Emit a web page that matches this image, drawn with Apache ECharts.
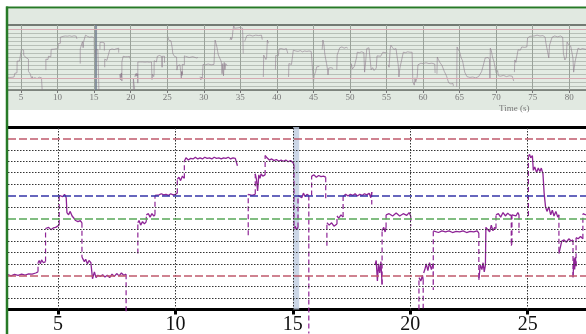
<!DOCTYPE html>
<html><head><meta charset="utf-8">
<script src="https://cdn.jsdelivr.net/npm/echarts@6/dist/echarts.min.js"></script>
<style>html,body{margin:0;padding:0;background:#fff}#c{width:586px;height:334px}</style>
</head><body><div id="c"></div>
<script>
// pitch trace of the zoomed window: [time (s), semitones above tonic]; null = unvoiced gap
const detailTrace = [
 [2.87,0.05],[3.0,-0.05],[3.15,0.08],[3.3,0.0],[3.45,0.1],[3.6,0.02],[3.75,0.12],[3.9,0.1],[4.05,0.2],[4.15,0.3],
 [4.15,1.1],[4.2,1.3],[4.25,1.0],[4.3,1.35],[4.38,1.1],[4.45,1.25],
 [4.47,1.2],[4.47,4.1],[4.52,4.0],[4.6,4.2],[4.7,4.0],[4.8,4.15],[4.9,4.2],[4.95,4.3],[5.05,4.4],
 [5.05,7.0],[5.12,7.1],[5.2,6.9],[5.28,7.1],[5.35,6.8],[5.38,5.5],[5.45,5.3],[5.52,5.6],[5.6,5.2],[5.68,5.0],[5.75,4.8],[5.85,4.7],[5.95,4.8],[6.02,4.6],
 [6.02,1.6],[6.07,1.7],[6.12,1.2],[6.18,1.4],[6.25,1.0],[6.32,1.3],[6.4,1.1],[6.45,1.0],
 [6.47,-0.3],[6.55,0.3],[6.62,-0.2],[6.7,0.0],[6.8,-0.1],[6.9,0.05],[7.0,-0.15],[7.1,0.0],[7.2,-0.2],[7.3,0.1],[7.4,-0.1],[7.5,0.15],[7.6,-0.05],[7.7,0.2],[7.8,0.0],[7.9,0.1],
 [7.9,-3.2], null,
 [8.4,1.9],[8.4,4.6],[8.45,4.8],[8.52,4.4],[8.6,4.7],[8.68,4.5],[8.76,4.7],
 [8.76,5.3],[8.85,5.4],[8.92,5.1],[9.0,5.4],[9.08,5.2],[9.13,5.3],
 [9.13,7.0],[9.2,7.1],[9.3,7.05],[9.4,7.15],[9.5,7.05],[9.6,7.1],[9.7,7.0],[9.8,7.15],[9.9,7.05],[10.0,7.1],[10.08,7.2],
 [10.08,8.4],[10.15,8.6],[10.22,8.3],[10.3,8.7],[10.38,8.5],
 [10.38,10.0],[10.45,10.3],[10.55,10.1],[10.65,10.25],[10.75,10.2],[10.85,10.35],[10.95,10.2],[11.05,10.3],[11.15,10.2],[11.25,10.35],[11.35,10.25],[11.45,10.3],[11.55,10.2],[11.65,10.35],[11.75,10.25],[11.85,10.3],[11.95,10.2],[12.05,10.3],[12.15,10.25],[12.25,10.35],[12.35,10.2],[12.45,10.3],[12.55,10.25],[12.62,10.3],[12.64,9.6], null,
 [13.1,3.5],[13.1,7.1],[13.18,7.2],[13.26,7.0],[13.33,7.15],[13.4,7.1],[13.4,8.9],[13.45,8.4],[13.5,7.4],[13.55,8.8],[13.6,8.5],[13.65,8.9],[13.72,8.7],[13.82,8.8],
 [13.82,10.5],[13.9,10.3],[14.0,10.1],[14.1,10.2],[14.2,10.05],[14.3,10.15],[14.4,10.0],[14.5,10.1],[14.6,10.0],[14.7,10.1],[14.8,9.95],[14.9,10.05],[15.0,9.9],[15.05,9.7],
 [15.05,4.1],[15.1,4.3],[15.15,4.0],[15.22,4.2],
 [15.22,7.0],[15.3,7.1],[15.38,6.8],[15.45,7.2],[15.52,6.9],[15.6,7.1],[15.68,7.0],
 [15.68,-5.1], null,
 [15.8,7.0],[15.8,8.7],[15.9,8.8],[16.0,8.6],[16.1,8.75],[16.2,8.65],[16.3,8.7],[16.4,8.6],[16.4,6.7], null,
 [16.45,2.6],[16.45,4.6],[16.55,4.4],[16.65,4.6],[16.75,4.3],[16.88,4.5],
 [16.88,5.2],[16.95,5.0],[17.05,5.3],[17.14,5.1],
 [17.14,6.9],[17.25,7.1],[17.35,6.95],[17.45,7.1],[17.55,7.0],[17.65,7.15],[17.75,6.95],[17.85,7.1],[17.95,7.0],[18.05,7.15],[18.15,7.05],[18.25,7.2],[18.32,6.8],[18.36,7.3],
 [18.36,6.2], null,
 [18.5,0.9],[18.55,1.3],[18.6,-0.5],[18.65,1.0],[18.7,0.2],[18.75,1.2],[18.8,-0.8],
 [18.8,3.9],[18.87,4.2],[18.93,3.8],[18.97,4.2],
 [18.97,5.3],[19.1,5.4],[19.25,5.2],[19.4,5.45],[19.55,5.2],[19.7,5.4],[19.85,5.25],[19.95,5.5],[20.02,5.2],
 [20.02,4.3], null,
 [20.37,-3.0],[20.37,-0.2],[20.45,-0.5],[20.52,0.0],[20.55,-0.4],
 [20.55,-2.9], null,
 [20.57,0.2],[20.62,0.5],[20.68,1.0],[20.75,0.4],[20.82,1.1],[20.9,0.5],[20.97,1.0],
 [20.98,-1.3],[20.98,3.9],
 [21.05,3.85],[21.2,3.75],[21.35,3.9],[21.5,3.8],[21.65,3.9],[21.8,3.75],[21.95,3.85],[22.1,3.8],[22.25,3.9],[22.4,3.75],[22.55,3.85],[22.7,3.8],[22.85,3.9],[22.92,3.7],
 [22.92,-0.4],[22.98,0.9],[23.05,0.5],[23.1,1.1],[23.15,0.3],[23.2,0.9],
 [23.22,4.2],[23.3,4.3],[23.38,3.8],[23.45,4.4],[23.52,3.9],[23.6,4.2],[23.65,4.1],
 [23.65,5.3],[23.75,5.4],[23.85,5.1],[23.95,5.5],[24.05,5.2],[24.15,5.45],[24.25,5.25],[24.3,5.3],
 [24.3,2.6],[24.33,2.8],[24.33,5.3],[24.4,5.4],[24.5,5.2],[24.58,5.5],[24.63,5.3],
 [24.63,3.7], null,
 [25.03,5.2],[25.03,10.4],[25.08,10.6],[25.13,10.3],[25.2,10.5],[25.24,9.2],[25.3,9.5],[25.38,9.0],[25.45,9.4],[25.52,9.1],[25.58,9.4],[25.65,8.9],[25.7,7.2],[25.76,6.0],[25.82,5.6],[25.9,6.0],[25.98,5.3],[26.05,5.7],[26.12,5.2],[26.2,5.6],[26.28,5.1],[26.33,5.3],
 [26.33,1.9],[26.45,3.0],[26.55,3.1],[26.65,2.9],[26.75,3.2],[26.85,3.0],[26.93,3.1],
 [26.93,-0.2],[26.97,1.5],[27.0,0.5],[27.03,1.6],[27.06,0.8],
 [27.06,3.3],[27.15,3.2],[27.25,3.4],[27.35,3.2],
 [27.35,5.4],[27.48,5.3]
];
// rest of the recording, shown only in the overview strip
const overviewTrace = [
 [27.5,5.3],[28.0,5.0],[28.5,5.2],[29.0,4.9],[29.2,5.0], null,
 [29.5,0.3],[29.6,-0.5],[29.7,0.2],[29.8,-0.3],[29.9,0.0],[29.9,3.3],[30.2,3.2],[30.6,3.4],[31.0,3.2],[31.4,3.3],[31.5,3.0],[31.55,9.3],[31.65,9.0],[31.8,7.6],[31.9,6.5],[32.0,5.6],[32.2,5.8],[32.4,4.0],[32.5,1.0],[32.6,3.5],[32.7,0.5],[32.8,3.8],[32.9,2.0],[33.0,3.5],[33.2,3.0], null,
 [33.6,9.3],[33.7,10.0],[33.8,9.4],[33.9,10.0],[34.0,11.8],[34.1,12.9],[34.2,12.2],[34.4,12.5],[34.7,12.3],[35.0,12.4],[35.3,12.2],[35.35,10.0],[35.4,6.0], null,
 [35.6,9.0],[35.8,9.2],[35.9,10.4],[36.3,10.5],[36.7,10.3],[37.1,10.5],[37.5,10.4],[37.9,10.5],[38.0,9.4], null,
 [38.15,0.2],[38.2,5.6],[38.3,5.2],[38.45,5.6],[38.5,4.5],[38.6,5.0],[38.7,9.3],[38.8,9.0],[38.85,8.5], null,
 [39.8,2.0],[39.85,5.5],[40.0,5.2],[40.2,5.4],[40.3,7.1],[40.6,7.2],[41.0,7.0],[41.3,7.2],[41.5,6.9],[41.5,6.0], null,
 [41.6,0.2],[41.65,3.5],[41.8,3.2],[42.0,3.3],[42.2,3.1],[42.25,6.8],[42.4,6.4],[42.6,6.6],[42.9,6.5],[43.2,6.7],[43.5,6.4],[43.8,6.6],[44.1,6.5],[44.4,6.6],[44.7,6.5],[44.8,4.0],[44.9,1.5],[45.0,-1.3],[45.1,0.5],[45.3,1.5],[45.45,2.7],[45.6,2.6],[45.8,2.8], null,
 [46.2,7.0],[46.3,9.3],[46.45,8.0],[46.55,6.0],[46.65,4.9],[46.8,3.5],[46.9,2.4],[47.0,0.7],[47.1,2.4],[47.4,2.5],[47.7,2.3], null,
 [48.2,2.0],[48.25,5.6],[48.4,5.2],[48.6,7.4],[48.9,7.6],[49.2,7.3],[49.5,7.5],[49.7,7.3], null,
 [50.1,-0.4],[50.15,3.5],[50.35,2.2],[50.6,2.8],[50.8,3.0],[50.9,5.0],[51.0,6.3],[51.3,6.2],[51.6,6.4],[51.9,6.2],[52.0,1.4],[52.1,3.0],[52.3,7.2],[52.6,7.4],[52.8,7.3],[52.9,2.0],[53.1,2.5],[53.3,1.8],[53.6,2.4],[53.7,5.4],[53.9,5.0],[54.2,5.3],[54.5,6.3],[54.8,6.2],[55.0,6.4],[55.1,6.2], null,
 [55.25,3.2],[55.35,2.6],[55.5,7.0],[55.6,8.0],[55.8,7.5],[56.0,7.0],[56.3,7.2],[56.5,7.0],[56.6,3.2],[56.7,0.2],[56.8,2.0],[56.9,3.0],[57.1,3.3],[57.3,6.3],[57.6,6.2],[57.9,6.4],[58.2,6.3],[58.5,6.3],[58.6,-1.0],[58.8,-1.8],[58.9,0.0],[59.0,-1.0],[59.2,0.2],[59.3,3.2],[59.5,3.0],[59.7,3.6],[60.0,3.5],[60.4,3.7],[60.8,3.5],[61.2,3.6],[61.6,3.4],[61.65,1.2], null,
 [61.9,1.0],[61.95,5.1],[62.1,4.5],[62.3,3.8],[62.6,3.0],[62.9,1.6],[63.2,0.5],[63.5,-1.2],[63.8,-1.5],[64.1,-1.4],[64.15,-2.0], null,
 [64.6,-2.2],[64.65,7.6],[64.8,7.0],[65.0,6.4],[65.2,5.0],[65.4,4.2],[65.6,3.9],[65.7,1.4],[65.8,1.8],[66.0,0.3],[66.4,0.1],[66.8,0.2],[67.2,0.0],[67.6,0.3],[67.8,0.2],[68.0,1.5],[68.2,2.8],[68.4,3.2],[68.5,4.9],[68.7,4.6],[68.9,5.0],[69.1,4.5],[69.15,-0.2],[69.2,7.3],[69.35,6.6],[69.5,5.1],[69.7,4.0],[69.9,3.7],[70.0,1.2],[70.2,1.8],[70.3,0.5],[70.6,0.4],[71.0,0.6],[71.4,0.3],[71.8,0.5],[72.2,0.4],[72.4,-0.8], null,
 [72.5,1.4],[72.55,4.4],[72.7,3.8],[72.9,4.0],[73.0,6.9],[73.3,6.8],[73.5,7.6],[73.9,7.5],[74.2,7.6],[74.3,9.8],[74.6,10.2],[74.8,10.4],[75.2,10.3],[75.6,10.5],[76.0,10.3],[76.4,10.4],[76.7,10.0],[76.8,8.6],[77.0,8.2],[77.2,4.9],[77.3,8.0],[77.5,8.4],[77.65,10.0],[78.0,10.3],[78.4,10.1],[78.8,10.3],[79.1,10.0],[79.2,6.0],[79.4,4.4],[79.6,5.0],[79.7,8.8],[79.9,8.2],[80.2,7.8],[80.4,7.6],[80.5,4.9],[80.6,1.4],[80.8,4.0],[81.0,3.8],[81.2,7.3],[81.5,7.0],[81.8,7.2],[82.3,7.0]
];
const overviewTicks = [5,10,15,20,25,30,35,40,45,50,55,60,65,70,75,80];
const detailTicks = [5,10,15,20,25];
const semitoneLevels = [-2,-1,1,2,3,4,6,8,9,10,11];
const tonicLevels = [0,12];
const fourthLevels = [5];
const fifthLevels = [7];
const overviewCursor = [15.0,15.4];
const detailCursor = [15.01,15.27];

const gap = ['-','-'];
const norm = arr => arr.map(p => p === null ? gap : p);

// split the zoomed trace: vertical jumps dashed, the rest solid
const solidData = [], dashedData = [];
for (let i = 0; i < detailTrace.length - 1; i++) {
  const a = detailTrace[i], b = detailTrace[i + 1];
  if (!a || !b) continue;
  const vertical = Math.abs(b[0] - a[0]) < 0.015;
  const target = vertical ? dashedData : solidData;
  const last = target[target.length - 1];
  if (last && last !== gap && last[0] === a[0] && last[1] === a[1]) target.push(b);
  else { if (target.length) target.push(gap); target.push(a, b); }
}

const serif = 'Liberation Serif';
const hLine = (v, color, type, width) => ({ yAxis: v, lineStyle: { color, type, width } });
const vLine = (v, color, type, width) => ({ xAxis: v, lineStyle: { color, type, width } });

const chart = echarts.init(document.getElementById('c'), null, { renderer: 'canvas' });
chart.setOption({
  animation: false,
  backgroundColor: '#ffffff',
  title: { text: 'Time (s)', left: 494, top: 99, textStyle: { fontFamily: serif, fontSize: 9, fontWeight: 'normal', color: '#777' } },
  graphic: [
    { type: 'rect', z: -5, silent: true, shape: { x: 8, y: 9, width: 578, height: 101 }, style: { fill: '#e1e9e1' } },
    { type: 'line', z: 100, silent: true, shape: { x1: 7, y1: 6.5, x2: 7, y2: 334 }, style: { stroke: '#277a27', lineWidth: 2.5 } },
    { type: 'line', z: 100, silent: true, shape: { x1: 6, y1: 7.5, x2: 586, y2: 7.5 }, style: { stroke: '#277a27', lineWidth: 2 } }
  ],
  grid: [
    { left: 8, right: 0, top: 25, bottom: 244, show: true, backgroundColor: '#e3ebe3', borderWidth: 0, outerBoundsMode: 'none' },
    { left: 8, right: 0, top: 127, bottom: 24.5, show: false, outerBoundsMode: 'none' }
  ],
  xAxis: [
    { gridIndex: 0, type: 'value', min: 3.22, max: 82.29, position: 'bottom',
      axisLine: { onZero: false, lineStyle: { color: '#6b716b', width: 1.5 } },
      axisTick: { customValues: overviewTicks, length: 3, lineStyle: { color: '#777' } },
      axisLabel: { customValues: overviewTicks, fontFamily: serif, fontSize: 9, color: '#777', margin: 3 },
      splitLine: { show: false } },
    { gridIndex: 0, type: 'value', min: 3.22, max: 82.29, position: 'top',
      axisLine: { show: true, onZero: false, lineStyle: { color: '#737a73', width: 2 } },
      axisTick: { show: false }, axisLabel: { show: false }, splitLine: { show: false } },
    { gridIndex: 1, type: 'value', min: 2.871, max: 27.483, position: 'bottom',
      axisLine: { onZero: false, lineStyle: { color: '#000', width: 3 } },
      axisTick: { customValues: detailTicks, length: 5, lineStyle: { color: '#000', width: 3 } },
      axisLabel: { customValues: detailTicks, fontFamily: serif, fontSize: 20, color: '#111', margin: 5 },
      splitLine: { show: false } },
    { gridIndex: 1, type: 'value', min: 2.871, max: 27.483, position: 'top',
      axisLine: { show: true, onZero: false, lineStyle: { color: '#000', width: 3 } },
      axisTick: { show: false }, axisLabel: { show: false }, splitLine: { show: false } }
  ],
  yAxis: [
    { gridIndex: 0, type: 'value', min: -3, max: 13, interval: 1,
      axisLine: { show: false, onZero: false }, axisTick: { show: false }, axisLabel: { show: false },
      splitLine: { show: true, lineStyle: { color: '#b7bfb7', width: 1 } } },
    { gridIndex: 1, type: 'value', min: -3, max: 13, interval: 1,
      axisLine: { show: false, onZero: false }, axisTick: { show: false }, axisLabel: { show: false },
      splitLine: { show: false } }
  ],
  series: [
    { type: 'line', xAxisIndex: 0, yAxisIndex: 0, data: [], z: 1, silent: true,
      markLine: { silent: true, symbol: ['none', 'none'], label: { show: false },
        data: [
          ...overviewTicks.map(v => vLine(v, '#9aa29a', 'solid', 1)),
          ...tonicLevels.map(v => hLine(v, '#d6aab2', 'solid', 1))
        ] },
      markArea: { silent: true, itemStyle: { color: 'rgba(110,122,140,0.75)' }, data: [[{ xAxis: overviewCursor[0] }, { xAxis: overviewCursor[1] }]] } },
    { type: 'line', xAxisIndex: 0, yAxisIndex: 0, z: 3, silent: true, showSymbol: false, connectNulls: false,
      data: norm(detailTrace).concat([gap], norm(overviewTrace)),
      lineStyle: { color: '#8a7688', width: 0.7, opacity: 0.8 } },
    { type: 'line', xAxisIndex: 2, yAxisIndex: 1, data: [], z: 1, silent: true,
      markLine: { silent: true, symbol: ['none', 'none'], label: { show: false },
        data: [
          ...semitoneLevels.map(v => hLine(v, '#333', [1.5, 1.5], 1)),
          ...detailTicks.map(v => vLine(v, '#333', [1.5, 1.5], 1)),
          ...tonicLevels.map(v => hLine(v, '#c05a6c', [8, 3], 1.5)),
          ...fourthLevels.map(v => hLine(v, '#58a858', [8, 3], 1.5)),
          ...fifthLevels.map(v => hLine(v, '#3434a8', [8, 3], 1.5))
        ] },
      markArea: { silent: true, itemStyle: { color: 'rgba(190,204,224,0.8)' }, data: [[{ xAxis: detailCursor[0] }, { xAxis: detailCursor[1] }]] } },
    { type: 'line', xAxisIndex: 2, yAxisIndex: 1, z: 4, silent: true, showSymbol: false, connectNulls: false,
      data: solidData, lineStyle: { color: '#8e2496', width: 1.3 } },
    { type: 'line', xAxisIndex: 2, yAxisIndex: 1, z: 4, silent: true, showSymbol: false, connectNulls: false, clip: false,
      data: dashedData, lineStyle: { color: '#8e2496', width: 1.2, type: [5, 3] } }
  ]
});
</script></body></html>
